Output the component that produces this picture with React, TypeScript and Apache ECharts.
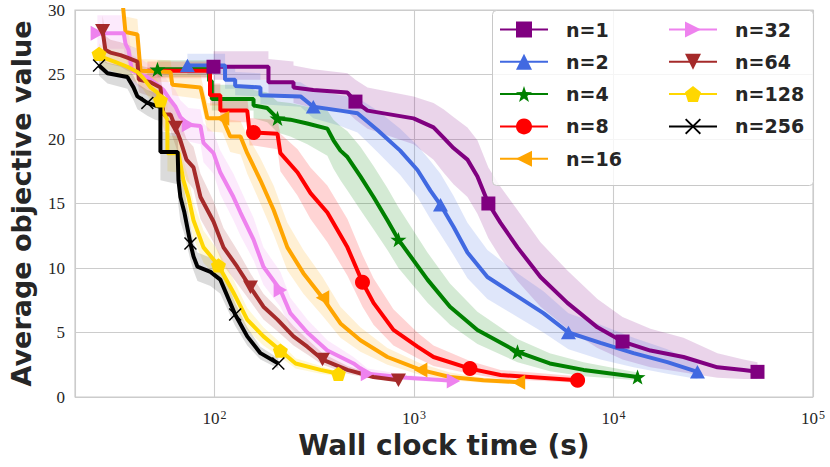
import React, { useEffect, useRef } from "react";
import * as echarts from "echarts";

// ---- data: [wall clock time (s), mean objective, band low, band high] ----
const seriesNames = ["n=1", "n=2", "n=4", "n=8", "n=16", "n=32", "n=64", "n=128", "n=256"];
const seriesColors = ["#800080", "#4169e1", "#008000", "#ff0000", "#ffa500", "#ee82ee", "#a52a2a", "#ffd700", "#000000"];

const n1 = [
  [98.9, 25.6, 24.6, 26.8], [186.5, 25.6, 24.6, 26.8], [186.5, 24.4, 23.3, 26.2], [249, 24.4, 23.2, 26.0],
  [249, 24.0, 22.8, 25.7], [313, 23.8, 22.4, 25.4], [464, 23.6, 22.1, 25.1], [509, 22.9, 21.5, 24.6],
  [585, 22.2, 20.8, 24.0], [995, 21.6, 19.6, 23.3], [1253, 20.9, 18.4, 22.8], [1406, 20.1, 17.4, 22.3],
  [1578, 19.3, 16.5, 21.7], [1854, 18.4, 15.5, 20.9], [2080, 17.1, 14.2, 19.9], [2360, 15.0, 12.3, 17.8],
  [2715, 13.5, 10.8, 16.3], [3302, 11.6, 9.0, 14.5], [4307, 9.3, 7.0, 12.0], [5875, 7.3, 5.3, 9.8],
  [8310, 5.4, 3.8, 7.6], [11100, 4.3, 2.9, 6.2], [15310, 3.6, 2.3, 5.3], [22440, 3.1, 1.9, 4.6],
  [33200, 2.3, 1.5, 3.4], [44850, 2.1, 1.4, 2.9], [52700, 1.95, 1.4, 2.7],
];
const n2 = [
  [73.2, 25.7, 25.0, 26.6], [113, 25.7, 25.0, 26.6], [113, 24.6, 23.9, 25.6], [127, 24.6, 23.9, 25.6],
  [127, 24.1, 23.4, 25.2], [170, 24.0, 23.3, 25.1], [170, 23.4, 22.7, 24.6], [270, 23.3, 22.5, 24.4],
  [313, 22.5, 21.6, 23.8], [428, 22.2, 21.0, 23.4], [521, 22.0, 20.5, 23.2], [656, 20.7, 19.0, 22.2],
  [853, 19.1, 17.2, 20.8], [1041, 17.6, 15.5, 19.5], [1209, 16.0, 13.8, 18.3], [1358, 14.9, 12.6, 17.3],
  [1578, 13.2, 11.0, 15.6], [1854, 11.2, 9.2, 13.5], [2334, 9.3, 7.6, 11.4], [3302, 7.8, 6.2, 9.6],
  [4455, 6.5, 5.0, 8.2], [5945, 5.0, 3.7, 6.5], [8606, 4.2, 2.9, 5.6], [12600, 3.4, 2.3, 4.6],
  [18620, 2.7, 1.8, 3.7], [26360, 1.95, 1.4, 2.6],
];
const n4 = [
  [51.8, 25.4, 24.8, 26.1], [94, 25.4, 24.8, 26.1], [94, 24.5, 23.8, 25.3], [97, 24.5, 23.8, 25.3],
  [97, 23.1, 22.2, 24.2], [157, 23.1, 22.2, 24.2], [157, 22.6, 21.6, 23.8], [184, 22.4, 21.3, 23.6],
  [207, 21.6, 20.5, 22.9], [240, 21.5, 20.2, 22.8], [292, 21.2, 19.6, 22.5], [368, 20.8, 18.7, 22.2],
  [395, 19.9, 17.7, 21.5], [428, 19.1, 16.8, 21.0], [464, 18.6, 16.0, 20.6], [539, 17.1, 14.5, 19.4],
  [627, 15.5, 13.0, 17.9], [736, 13.7, 11.4, 16.2], [836, 12.2, 10.0, 14.7], [1169, 9.1, 7.3, 11.2],
  [1515, 7.0, 5.6, 8.8], [2080, 5.2, 4.1, 6.6], [3302, 3.5, 2.7, 4.5], [4794, 2.6, 2.0, 3.4],
  [7080, 2.1, 1.6, 2.7], [13200, 1.55, 1.3, 1.9],
];
const n8 = [
  [46.1, 25.3, 24.7, 26.0], [95, 25.3, 24.7, 26.0], [95, 23.4, 22.6, 24.3], [107, 23.4, 22.6, 24.3],
  [107, 22.2, 21.3, 23.2], [146, 22.2, 21.3, 23.2], [150, 20.5, 19.5, 21.6], [157, 20.5, 19.5, 21.6],
  [207, 20.4, 19.2, 21.5], [214, 18.9, 17.5, 20.4], [261, 17.4, 15.6, 19.2], [303, 15.8, 13.8, 17.8],
  [368, 14.3, 12.0, 16.4], [464, 11.6, 9.4, 13.8], [552, 8.9, 7.0, 11.0], [627, 7.3, 5.6, 9.2],
  [789, 5.2, 4.0, 6.8], [1041, 3.9, 3.0, 5.0], [1253, 3.1, 2.4, 4.0], [1908, 2.2, 1.8, 2.8],
  [2714, 1.7, 1.4, 2.1], [6610, 1.3, 1.1, 1.6],
];
const n16 = [
  [34.2, 31.5, 30.0, 33.0], [35.8, 28.3, 27.3, 29.5], [41.1, 28.1, 27.0, 29.3], [42.6, 25.3, 24.5, 26.2],
  [60.2, 25.2, 24.4, 26.1], [61.5, 24.2, 23.4, 25.1], [85.1, 24.0, 23.1, 25.0], [88.1, 23.0, 22.0, 24.0],
  [92.2, 21.6, 20.6, 22.8], [109.7, 21.6, 20.5, 22.7], [120, 20.2, 19.0, 21.5], [135, 20.2, 18.8, 21.4],
  [146, 18.9, 17.3, 20.3], [170, 16.8, 15.0, 18.5], [198, 14.5, 12.6, 16.4], [232, 11.6, 9.8, 13.5],
  [279, 9.6, 8.0, 11.4], [348, 7.7, 6.3, 9.3], [428, 5.7, 4.6, 7.0], [539, 4.4, 3.5, 5.4],
  [736, 3.1, 2.5, 3.8], [1080, 2.1, 1.7, 2.6], [1515, 1.55, 1.3, 1.9], [2228, 1.3, 1.1, 1.5],
  [3340, 1.15, 1.0, 1.3],
];
const n32 = [
  [25.9, 28.2, 27.0, 29.6], [35.1, 28.2, 27.0, 29.6], [35.8, 27.4, 26.3, 28.6], [37.1, 26.9, 25.8, 28.2],
  [38.6, 25.3, 24.3, 26.5], [42.6, 25.0, 24.0, 26.2], [46.1, 24.8, 23.8, 25.9], [51.8, 24.2, 23.1, 25.3],
  [55.5, 23.8, 22.6, 25.0], [60.2, 23.0, 21.8, 24.2], [63.8, 22.5, 21.2, 23.8], [67.5, 21.7, 20.4, 23.0],
  [74.1, 21.1, 19.8, 22.4], [85.1, 21.0, 19.6, 22.3], [88.1, 19.7, 18.2, 21.2], [98.9, 18.9, 17.3, 20.5],
  [107, 17.4, 15.7, 19.1], [124.5, 15.5, 13.7, 17.3], [135, 14.3, 12.5, 16.1], [157, 12.2, 10.6, 13.9],
  [176, 10.1, 8.7, 11.6], [214, 8.3, 7.0, 9.7], [240, 6.5, 5.4, 7.7], [292, 5.0, 4.1, 6.0],
  [368, 3.6, 2.9, 4.4], [498, 2.6, 2.1, 3.1], [585, 1.8, 1.5, 2.2], [922, 1.5, 1.3, 1.7],
  [1578, 1.25, 1.1, 1.4],
];
const n64 = [
  [27.5, 28.4, 27.2, 29.6], [28.4, 26.9, 25.9, 28.0], [30.1, 26.7, 25.8, 27.7], [33.8, 26.5, 25.6, 27.5],
  [36.6, 26.3, 25.3, 27.3], [41.1, 26.0, 25.0, 27.0], [41.8, 24.6, 23.6, 25.7], [47.8, 24.4, 23.3, 25.5],
  [53.6, 24.0, 22.9, 25.1], [55.5, 21.9, 20.6, 23.2], [60.2, 21.9, 20.6, 23.2], [63.8, 20.9, 19.5, 22.3],
  [67.5, 19.9, 18.3, 21.4], [72.4, 18.4, 16.8, 20.0], [78.5, 17.8, 16.1, 19.4], [85.1, 15.5, 13.8, 17.3],
  [98.9, 13.6, 12.0, 15.2], [111, 11.6, 10.2, 13.1], [130, 10.1, 8.8, 11.4], [151.5, 8.5, 7.4, 9.6],
  [176, 7.0, 6.0, 8.0], [207, 6.0, 5.1, 6.9], [249, 4.7, 4.0, 5.5], [292, 3.9, 3.3, 4.5],
  [348, 2.9, 2.5, 3.4], [464, 2.1, 1.8, 2.4], [627, 1.55, 1.4, 1.75], [836, 1.3, 1.2, 1.45],
];
const n128 = [
  [26.4, 26.6, 25.8, 27.4], [27.8, 26.3, 25.5, 27.1], [31.5, 26.0, 25.2, 26.8], [36.6, 25.6, 24.8, 26.4],
  [41.1, 25.2, 24.3, 26.0], [44.1, 24.7, 23.8, 25.6], [47.8, 24.0, 23.0, 25.0], [51.8, 23.6, 22.6, 24.6],
  [53.6, 23.0, 22.0, 24.1], [54.8, 22.2, 21.1, 23.3], [58.1, 21.5, 20.2, 22.8], [58.1, 18.9, 17.5, 20.3],
  [66, 18.9, 17.4, 20.2], [69.9, 16.8, 15.3, 18.3], [74.1, 15.5, 14.0, 17.0], [78.5, 13.7, 12.3, 15.1],
  [88.1, 11.6, 10.4, 12.9], [104.7, 10.2, 9.1, 11.3], [124.5, 8.1, 7.1, 9.1], [146, 6.0, 5.2, 6.9],
  [176, 4.7, 4.0, 5.4], [214, 3.6, 3.1, 4.2], [255, 2.6, 2.2, 3.0], [340, 2.1, 1.8, 2.4],
  [418, 1.8, 1.6, 2.0],
];
const n256 = [
  [26.4, 25.7, 24.9, 26.4], [29.1, 25.1, 24.3, 25.9], [36.6, 24.8, 23.9, 25.6], [39.3, 24.0, 23.0, 24.9],
  [41.1, 23.3, 22.3, 24.3], [46.1, 22.8, 21.8, 23.8], [50.4, 22.6, 21.5, 23.6], [53.6, 22.5, 21.4, 23.5],
  [53.6, 19.0, 16.8, 20.6], [65.4, 19.0, 16.5, 20.4], [66, 16.8, 14.8, 18.6], [67.5, 15.5, 13.6, 17.4],
  [70.7, 14.3, 12.6, 16.0], [75.8, 11.9, 10.6, 13.3], [78.5, 10.9, 9.8, 12.0], [82.2, 10.1, 9.0, 11.2],
  [95.5, 9.7, 8.6, 10.8], [107, 9.1, 8.0, 10.2], [127, 6.4, 5.5, 7.3], [146, 4.7, 4.0, 5.4],
  [170, 3.4, 2.9, 3.9], [209, 2.6, 2.2, 3.0],
];

// indices of the points that carry a marker
const n1Markers = [0, 7, 15, 21, 26];
const n2Markers = [0, 8, 15, 21, 25];
const n4Markers = [0, 8, 18, 22, 25];
const n8Markers = [7, 14, 19, 21];
const n16Markers = [9, 17, 21, 24];
const n32Markers = [0, 12, 21, 26, 28];
const n64Markers = [0, 11, 19, 24, 27];
const n128Markers = [0, 8, 17, 21, 24];
const n256Markers = [0, 5, 13, 18, 21];

const allData = [n1, n2, n4, n8, n16, n32, n64, n128, n256];
const allMarkers = [n1Markers, n2Markers, n4Markers, n8Markers, n16Markers, n32Markers, n64Markers, n128Markers, n256Markers];

// marker shapes
const STAR = "path://M0,-10L2.35,-3.24L9.51,-3.09L3.8,1.24L5.88,8.09L0,4L-5.88,8.09L-3.8,1.24L-9.51,-3.09L-2.35,-3.24Z";
const PENTAGON = "path://M0,-10L9.51,-3.09L5.88,8.09L-5.88,8.09L-9.51,-3.09Z";
const TRI_UP = "path://M0,-10L10,8L-10,8Z";
const TRI_DOWN = "path://M-10,-8L10,-8L0,10Z";
const TRI_LEFT = "path://M-10,0L8,-10L8,10Z";
const TRI_RIGHT = "path://M10,0L-8,-10L-8,10Z";
const CROSS = "path://M-10,-8.4L-8.4,-10L0,-1.6L8.4,-10L10,-8.4L1.6,0L10,8.4L8.4,10L0,1.6L-8.4,10L-10,8.4L-1.6,0Z";
const seriesSymbols = ["rect", TRI_UP, STAR, "circle", TRI_LEFT, TRI_RIGHT, TRI_DOWN, PENTAGON, CROSS];
const symbolSizes = [14, 15, 16, 15, 15, 15, 15, 15, 13];

function hexToRgba(hex: string, a: number) {
  const v = parseInt(hex.slice(1), 16);
  return `rgba(${(v >> 16) & 255},${(v >> 8) & 255},${v & 255},${a})`;
}

export default function App() {
  const ref = useRef<HTMLDivElement>(null);
  useEffect(() => {
    document.body.style.margin = "0";
    const chart = echarts.init(ref.current!, null, { renderer: "svg" });

    const bandSeries = allData.map((d, i) => ({
      type: "custom",
      name: "band " + seriesNames[i],
      data: d,
      encode: { x: 0, y: 1 },
      silent: true,
      z: 1,
      renderItem: (params: any, api: any) => {
        if (params.dataIndex !== 0) return null;
        const pts: number[][] = [];
        for (let k = 0; k < d.length; k++) pts.push(api.coord([d[k][0], d[k][3]]));
        for (let k = d.length - 1; k >= 0; k--) pts.push(api.coord([d[k][0], d[k][2]]));
        const cs = params.coordSys;
        return {
          type: "polygon",
          shape: { points: echarts.graphic.clipPointsByRect(pts, cs) },
          style: { fill: hexToRgba(seriesColors[i], i === 8 ? 0.14 : 0.17) },
        };
      },
    }));

    const lineSeries = allData.map((d, i) => ({
      type: "line",
      name: seriesNames[i],
      data: d.map((p, k) => ({
        value: [p[0], p[1]],
        symbolSize: allMarkers[i].includes(k) ? symbolSizes[i] : 0,
      })),
      symbol: seriesSymbols[i],
      symbolKeepAspect: true,
      showSymbol: true,
      clip: true,
      silent: true,
      z: 2,
      lineStyle: { width: 4, color: seriesColors[i] },
      itemStyle: { color: seriesColors[i] },
    }));

    const legendBase = {
      orient: "vertical",
      itemWidth: 48,
      itemHeight: 20,
      itemGap: 13.3,
      padding: 0,
      selectedMode: false,
      z: 10,
      lineStyle: { width: 2 },
      textStyle: {
        fontFamily: "DejaVu Sans",
        fontWeight: "bold",
        fontSize: 19,
        color: "#262626",
        padding: [0, 0, 0, 13],
      },
    };

    chart.setOption({
      animation: false,
      backgroundColor: "#ffffff",
      grid: { left: 75, right: 17, top: 10, bottom: 70, show: true, borderColor: "#cccccc", borderWidth: 1.2 },
      xAxis: {
        type: "log",
        logBase: 10,
        min: 20,
        max: 100000,
        axisLine: { show: false },
        axisTick: { show: false },
        splitLine: { show: true, lineStyle: { color: "#cccccc", width: 1.1 } },
        axisLabel: {
          margin: 12,
          formatter: (v: number) => {
            const e = Math.round(Math.log10(v));
            if (Math.abs(Math.log10(v) - e) > 1e-6) return "";
            return `{b|10}{s|${e}}`;
          },
          rich: {
            b: { fontFamily: "Liberation Serif", fontSize: 17, color: "#262626", lineHeight: 18, verticalAlign: "bottom" },
            s: { fontFamily: "Liberation Serif", fontSize: 12, color: "#262626", lineHeight: 18, verticalAlign: "top", padding: [0, 0, 6, 1] },
          },
        },
        name: "Wall clock time (s)",
        nameLocation: "middle",
        nameGap: 28,
        nameTextStyle: { fontFamily: "DejaVu Sans", fontWeight: "bold", fontSize: 28, color: "#262626" },
      },
      yAxis: {
        type: "value",
        min: 0,
        max: 30,
        interval: 5,
        axisLine: { show: false },
        axisTick: { show: false },
        splitLine: { show: true, lineStyle: { color: "#cccccc", width: 1.1 } },
        axisLabel: { fontFamily: "Liberation Serif", fontSize: 17, color: "#262626", margin: 10 },
        name: "Average objective value",
        nameLocation: "middle",
        nameRotate: 90,
        nameGap: 40,
        nameTextStyle: { fontFamily: "DejaVu Sans", fontWeight: "bold", fontSize: 27, color: "#262626" },
      },
      legend: [
        { ...legendBase, left: 499, top: 20, data: seriesNames.slice(0, 5) },
        { ...legendBase, left: 668, top: 20, data: seriesNames.slice(5) },
      ],
      graphic: [
        {
          type: "rect",
          left: 492,
          top: 10,
          z: 5,
          shape: { width: 321, height: 175, r: 4 },
          style: { fill: "rgba(255,255,255,0.8)", stroke: "#c8c8c8", lineWidth: 1 },
        },
      ],
      series: [...bandSeries, ...lineSeries],
    } as any);
    return () => chart.dispose();
  }, []);
  return <div ref={ref} style={{ width: 830, height: 467, position: "fixed", left: 0, top: 0 }} />;
}
